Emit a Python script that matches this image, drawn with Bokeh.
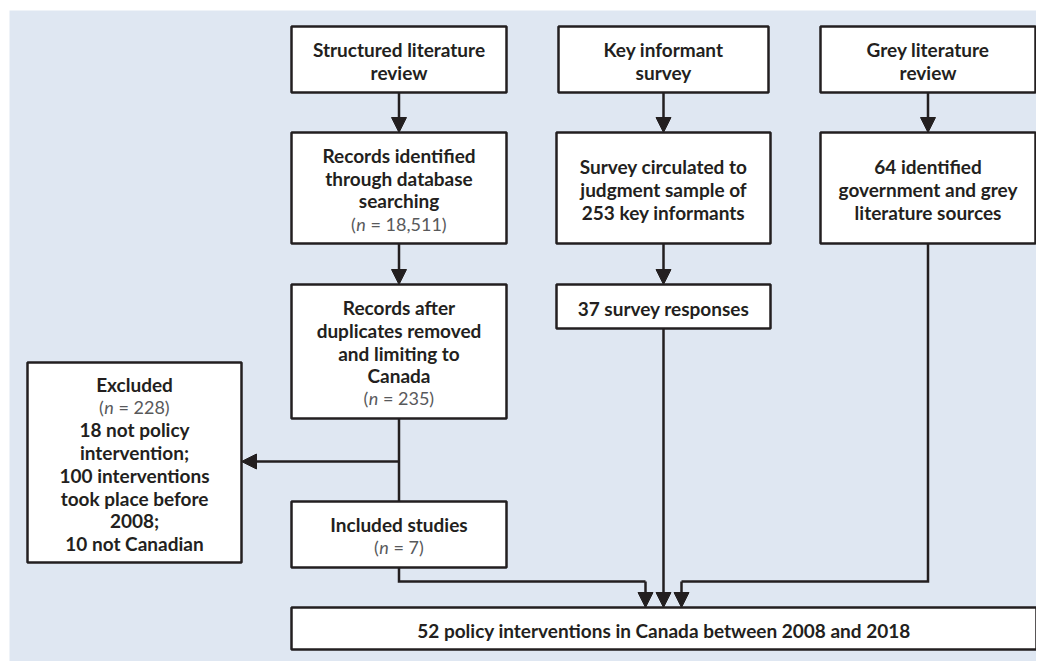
from bokeh.plotting import figure
from bokeh.models import Range1d, Arrow, NormalHead
from bokeh.core.properties import value
from bokeh.embed import file_html
from bokeh.resources import INLINE

# ---------------- data ----------------
sources = ["Structured literature review", "Key informant survey", "Grey literature review"]
n_records_identified = 18511
n_after_duplicates = 235
n_excluded = 228
excluded_counts = [18, 100, 10]
n_included = 7
n_survey_sample = 253
n_survey_responses = 37
n_grey_sources = 64
n_policy_interventions = 52
period = [2008, 2018]

# box texts (bold lines, optional n value shown as "(n = ...)")
box_text = {
    "A": (["Structured literature", "review"], None),
    "B": (["Records identified", "through database", "searching"], n_records_identified),
    "C": (["Records after", "duplicates removed", "and limiting to", "Canada"], n_after_duplicates),
    "D": (["Included studies"], n_included),
    "E": (["Excluded"], n_excluded),
    "G": (["Key informant", "survey"], None),
    "H": (["Survey circulated to", "judgment sample of", f"{n_survey_sample} key informants"], None),
    "I": ([f"{n_survey_responses} survey responses"], None),
    "J": (["Grey literature", "review"], None),
    "K": ([f"{n_grey_sources} identified", "government and grey", "literature sources"], None),
    "F": ([f"{n_policy_interventions} policy interventions in Canada between {period[0]} and {period[1]}"], None),
}
excluded_tail = [f"{excluded_counts[0]} not policy", "intervention;",
                 f"{excluded_counts[1]} interventions", "took place before", f"{period[0]};",
                 f"{excluded_counts[2]} not Canadian"]

# ---------------- layout (pixel coordinates of the picture) ----------------
boxes = {
    "A": (291, 506, 26, 92),
    "B": (291, 506, 132, 243),
    "C": (291, 506, 284, 418),
    "D": (291, 506, 501, 567),
    "E": (27, 241, 362, 562),
    "G": (558, 768, 26, 92),
    "H": (556, 770, 132, 243),
    "I": (556, 770, 284, 328),
    "J": (820, 1035, 26, 92),
    "K": (820, 1035, 132, 243),
    "F": (291, 1036, 607, 649),
}

PANEL = "#dfe7f2"
INK = "#231f20"
NGREY = "#58595b"
FONT = "Lato"
FS = 19
NFS = 18
LH = 22.7
W, H = 1036, 661

p = figure(width=W, height=H, x_range=Range1d(0, W), y_range=Range1d(H, 0),
           output_backend="svg", toolbar_location=None, min_border=0,
           x_axis_location=None, y_axis_location=None)
p.grid.visible = False
p.outline_line_color = None
p.background_fill_color = "white"
p.border_fill_color = "white"

# background panel
p.quad(left=[9], right=[1040], top=[10], bottom=[670], fill_color=PANEL, line_color=None)

# boxes
keys = list(boxes.keys())
p.quad(left=[boxes[k][0] for k in keys], right=[boxes[k][1] for k in keys],
       top=[boxes[k][2] for k in keys], bottom=[boxes[k][3] for k in keys],
       fill_color="white", line_color=INK, line_width=2.5)

# approximate advance widths (em) for composing the "(n = ...)" line
NB = "\u00a0"
WID = {"(": 0.30, ")": 0.30, NB: 0.25, "=": 0.58, ",": 0.23, "n": 0.53}
def tw(s):
    return sum(WID.get(c, 0.58) for c in s) * NFS

bx, by, bt = [], [], []
nx, ny, nt = [], [], []
ix, iy = [], []

def add_box_text(k):
    l, r, t, b = boxes[k]
    lines, nval = box_text[k]
    seq = [("b", s) for s in lines]
    if nval is not None:
        seq.append(("n", nval))
    if k == "E":
        seq += [("b", s) for s in excluded_tail]
    cx = (l + r) / 2
    cy = (t + b) / 2 + 1.5
    m = len(seq)
    for i, (kind, s) in enumerate(seq):
        y = cy + (i - (m - 1) / 2) * LH
        if kind == "b":
            bx.append(cx); by.append(y); bt.append(s)
        else:
            pre, post = "(", f"{NB}={NB}{s:,})"
            total = tw(pre) + tw("n") + tw(post)
            x0 = cx - total / 2
            nx.append(x0); ny.append(y); nt.append(pre)
            ix.append(x0 + tw(pre)); iy.append(y)
            nx.append(x0 + tw(pre) + tw("n")); ny.append(y); nt.append(post)

for k in keys:
    add_box_text(k)

p.text(x=bx, y=by, text=bt, text_align="center", text_baseline="middle",
       text_font=value(FONT), text_font_style="bold", text_font_size=f"{FS}px",
       text_color=INK)
p.text(x=nx, y=ny, text=nt, text_align="left", text_baseline="middle",
       text_font=value(FONT), text_font_size=f"{NFS}px", text_color=NGREY)
p.text(x=ix, y=iy, text=["n"] * len(ix), text_align="left", text_baseline="middle",
       text_font=value(FONT), text_font_style="italic", text_font_size=f"{NFS}px",
       text_color=NGREY)

# connectors
cxA = (boxes["A"][0] + boxes["A"][1]) / 2
cxG = 663
cxJ = (boxes["J"][0] + boxes["J"][1]) / 2
branch_y = 461
merge_y = 581
fx = [645, 663, 681]

def arrow(x0, y0, x1, y1):
    p.add_layout(Arrow(x_start=x0, y_start=y0, x_end=x1, y_end=y1,
                       line_color=INK, line_width=2.5,
                       end=NormalHead(size=15, fill_color=INK, line_color=INK, line_width=1)))

# plain segments
p.multi_line(xs=[[cxA, cxA], [cxA, cxA, fx[0]], [cxJ, cxJ, fx[2]]],
             ys=[[boxes["C"][3], boxes["D"][2]],
                 [boxes["D"][3], merge_y, merge_y],
                 [boxes["K"][3], merge_y, merge_y]],
             line_color=INK, line_width=2.5, line_join="miter")

top_F = boxes["F"][2]
arrow(cxA, boxes["A"][3], cxA, boxes["B"][2])
arrow(cxA, boxes["B"][3], cxA, boxes["C"][2])
arrow(cxG, boxes["G"][3], cxG, boxes["H"][2])
arrow(cxG, boxes["H"][3], cxG, boxes["I"][2])
arrow(cxJ, boxes["J"][3], cxJ, boxes["K"][2])
arrow(cxA, branch_y, boxes["E"][1], branch_y)
arrow(fx[0], merge_y, fx[0], top_F)
arrow(cxG, boxes["I"][3], cxG, top_F)
arrow(fx[2], merge_y, fx[2], top_F)

open("out.html", "w").write(file_html(p, INLINE))
